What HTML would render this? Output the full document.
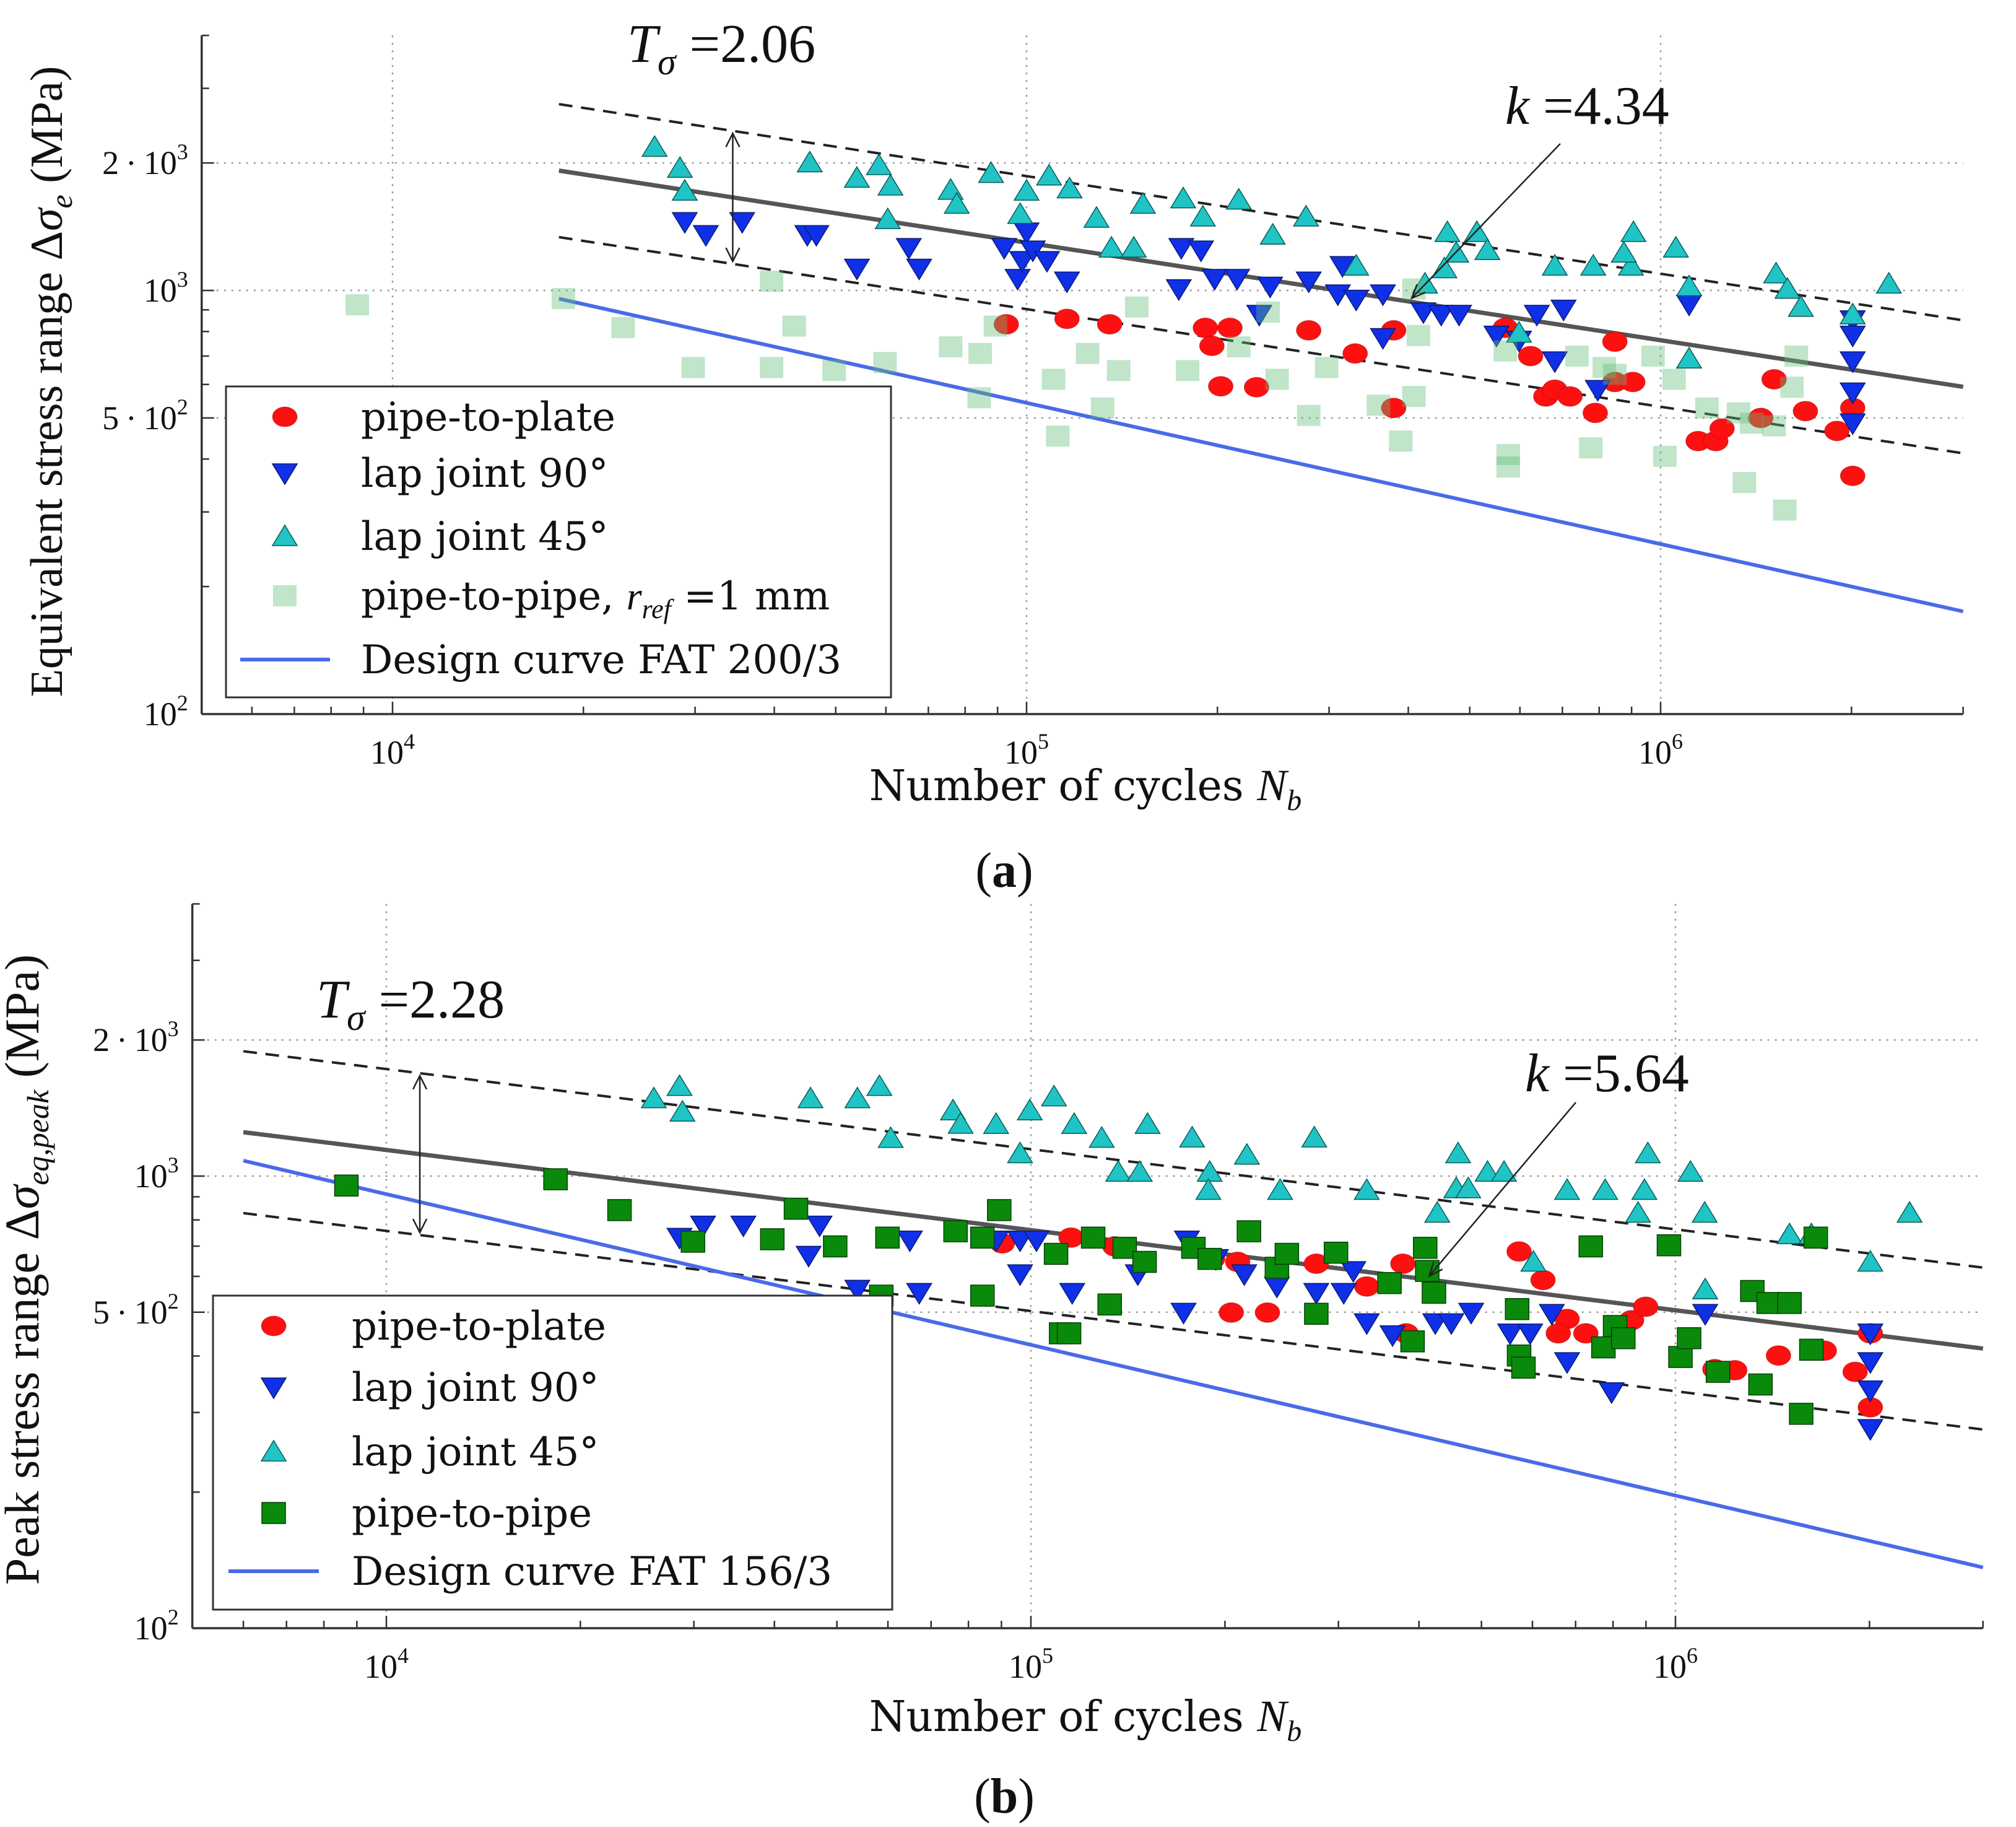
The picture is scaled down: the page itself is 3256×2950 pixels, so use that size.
<!DOCTYPE html>
<html><head><meta charset="utf-8">
<style>
html,body{margin:0;padding:0;background:#fff;}
svg{display:block;}
text{font-family:"DejaVu Serif","Liberation Serif",serif;fill:#111;}
.math{font-family:"Liberation Serif","DejaVu Serif",serif;}
</style></head>
<body>
<svg id="fig" xmlns="http://www.w3.org/2000/svg" width="3256" height="2950" viewBox="0 0 3256 2950">
<g id="pa"></g>
<g id="pb"></g>
</svg>
<script>
// ---------- Panel (a) data ----------
const aPlateN=[92900,115800,135200,191400,209300,196000,202400,230500,278600,329800,379300,379300,569000,623700,659000,681000,719500,788800,847000,847000,904000,1146000,1222000,1250000,1439000,1510000,1692000,1897000,2009000,2009000];
const aPlateS=[832,857,832,816,816,740,594,591,805,710,805,528,816,700,562,583,562,514,757,608,608,441,441,472,500,617,519,466,528,365];
const aLap90N=[28900,31200,35600,45100,46600,54000,65200,67700,92200,100000,96800,98400,102300,107700,115800,173800,175400,188400,198000,214800,242200,232800,278600,315000,309700,331000,364800,364800,422500,450800,481000,551000,598000,638000,703000,681000,796000,1109000,2009000,2009000,2009000,2009000,2009000];
const aLap90S=[1452,1353,1452,1353,1353,1127,1261,1127,1261,1372,1066,1175,1244,1175,1051,1008,1261,1244,1066,1066,1022,877,1051,1143,980,952,980,773,889,877,877,783,762,877,902,681,583,927,851,783,681,575,486];
const aLap45N=[25900,28400,28900,45500,54000,58500,61000,60400,75900,77600,87900,100000,97700,108500,116900,128900,136100,147600,152600,176600,189700,216100,244500,275900,331000,461000,513000,533000,476000,456000,425000,598000,681000,783000,898000,875000,906000,1057000,1109000,1109000,1521000,1585000,1664000,2009000,2291000];
const aLap45S=[2180,1945,1718,2004,1843,1974,1766,1472,1727,1600,1892,1718,1514,1866,1740,1483,1261,1261,1600,1648,1493,1637,1353,1493,1143,1372,1372,1244,1227,1127,1037,794,1143,1143,1143,1227,1372,1261,1022,690,1096,1008,914,877,1037];
const aPipeN=[8800,18600,23100,29800,39600,39600,43000,49700,59800,75900,84500,84200,89300,110300,112000,124800,131800,139700,149200,179500,216100,240400,248400,278600,297300,358900,389100,408300,415000,408300,575000,575000,569000,738000,776000,815000,847000,973000,1016000,1050000,1183000,1327000,1356000,1392000,1510000,1570000,1611000,1637000];
const aPipeS=[925,957,817,658,658,1051,824,647,676,736,710,558,824,617,453,710,528,647,914,647,736,889,617,507,658,536,441,562,783,1008,410,383,720,700,425,658,634,700,406,617,528,514,352,486,479,303,591,700];
const aFit={k:4.34,logC:4.265,band:0.157,nStart:18300};
const aDesign={fat:200,m:3,nStart:18300};
const aLabels={T:"2.06",k:"4.34",fat:"Design curve FAT 200/3"};

// ---------- Panel (b) data ----------
const bPlateN=[90300,115400,135000,191400,209300,277200,204600,232800,331900,377600,382000,572000,623000,679000,658000,726000,855000,899000,1151000,1236000,1445000,1702000,1900000,2006000,2006000];
const bPlateS=[710,731,699,656,646,640,499,499,570,640,449,681,589,483,449,449,480,514,374,372,401,411,369,449,308];
const bLap90N=[28500,31000,35800,47000,45200,64900,53800,67100,88300,96200,102000,96200,115900,146500,172500,174600,193600,214300,240800,277200,305700,316400,331900,364000,424000,449000,482000,554000,595000,643000,679000,796000,1112000,2006000,2006000,2006000,2006000];
const bLap90S=[731,778,778,778,667,721,561,552,721,721,721,607,552,607,499,721,656,607,570,552,552,617,473,445,473,473,499,449,449,496,388,333,496,449,388,336,276];
const bLap45N=[26000,28500,28800,45500,53800,58200,60600,75700,77800,88300,99600,96200,108600,116700,128800,136600,147500,151700,177900,189400,188500,216300,243600,275200,331900,427000,460000,457000,477000,511000,542000,602000,679000,778000,895000,875000,906000,1055000,1110000,1112000,1503000,1625000,2006000,2308000];
const bLap45S=[1485,1581,1387,1485,1485,1581,1213,1396,1304,1303,1396,1122,1499,1303,1214,1021,1021,1303,1216,1021,931,1114,931,1216,931,829,1122,939,939,1021,1021,646,931,931,931,829,1122,1021,829,561,743,743,646,829];
const bPipeN=[8670,18300,23000,29900,39700,43200,49700,59900,76400,84100,58600,84100,89300,109400,124900,139800,150100,132500,111400,114600,178700,189400,217900,240800,249500,277200,297400,360000,409000,412000,422000,391000,568000,572000,581000,739000,977000,773000,806000,830000,1018000,1050000,1164000,1316000,1395000,1503000,1625000,1355000,1567000,1651000];
const bPipeS=[953,984,841,716,725,847,699,731,755,731,544,544,841,673,731,694,646,520,449,449,694,656,755,627,673,496,677,580,694,617,552,431,508,401,377,699,703,418,466,438,398,438,369,557,524,524,413,346,298,731];
const bFit={k:5.64,logC:3.767,band:0.179,nStart:6000};
const bDesign={fat:156,m:3,nStart:6000};
const bLabels={T:"2.28",k:"5.64",fat:"Design curve FAT 156/3"};

const xTickExp=[4,5,6];
const yTickVals=[100,500,1000,2000];
const yTickMant=["","5","","2"];
const yTickExp=["2","2","3","3"];

const NS="http://www.w3.org/2000/svg";
function mk(tag,attrs,parent){const e=document.createElementNS(NS,tag);for(const k in attrs)e.setAttribute(k,attrs[k]);if(parent)parent.appendChild(e);return e;}
const lg=Math.log10;

const COL={plate:"#ff1010",lap90:"#1030e8",lap45:"#20c4c4",pipeA:"#62bf78",pipeB:"#0a8a0a",design:"#4a6ae8"};

function marker(g,type,cx,cy,color,opacity){
  let e;
  if(type==="circle"){e=mk("ellipse",{cx:cx,cy:cy,rx:20,ry:16,fill:color,stroke:"rgba(120,0,0,0.4)","stroke-width":1},g);}
  else if(type==="down"){e=mk("polygon",{points:`${cx-20},${cy-15} ${cx+20},${cy-15} ${cx},${cy+18}`,fill:color,stroke:"#0a1a70","stroke-width":1.5},g);}
  else if(type==="up"){e=mk("polygon",{points:`${cx-20},${cy+15} ${cx+20},${cy+15} ${cx},${cy-18}`,fill:color,stroke:"#0a5a5a","stroke-width":1.5},g);}
  else {e=mk("rect",{x:cx-19,y:cy-17,width:38,height:34,fill:color,stroke:opacity<1?"none":"#064006","stroke-width":1.5,"fill-opacity":opacity},g);}
  return e;
}

function panel(root,P){
  const X=n=>P.x10+(lg(n)-5)*P.dx;
  const Y=s=>P.y1000-(lg(s)-3)*P.dy;
  const xL=X(5000),xR=X(3e6),yT=Y(4000),yB=Y(100);
  const g=root;
  const grid=mk("g",{},g);
  
  
  xTickExp.forEach(e=>{mk("line",{x1:X(10**e),x2:X(10**e),y1:yT,y2:yB,stroke:"#999","stroke-width":2.5,"stroke-dasharray":"3 9"},grid);});
  yTickVals.forEach(v=>{if(v>100)mk("line",{x1:xL,x2:xR,y1:Y(v),y2:Y(v),stroke:"#999","stroke-width":2.5,"stroke-dasharray":"3 9"},grid);});
  const ax=mk("g",{},g);
  
  
  mk("line",{x1:xL,x2:xL,y1:yT,y2:yB,stroke:"#333","stroke-width":3.5},ax);
  mk("line",{x1:xL,x2:xR,y1:yB,y2:yB,stroke:"#333","stroke-width":3.5},ax);
  for(let e=3;e<=6;e++)for(let m=1;m<=9;m++){const n=m*10**e;if(n<5000||n>3e6)continue;const L=m===1?20:12;mk("line",{x1:X(n),x2:X(n),y1:yB,y2:yB-L,stroke:"#333","stroke-width":2.5},ax);}
  for(let e=2;e<=3;e++)for(let m=1;m<=9;m++){const v=m*10**e;if(v>4000)continue;const L=(m===1||v===500||v===2000)?20:12;mk("line",{x1:xL,x2:xL+L,y1:Y(v),y2:Y(v),stroke:"#333","stroke-width":2.5},ax);}
  xTickExp.forEach(e=>{const t=mk("text",{x:X(10**e),y:yB+80,"text-anchor":"middle","font-size":54,class:"math"},ax);t.innerHTML=`10<tspan dy="-24" font-size="36">${e}</tspan>`;});
  yTickVals.forEach((v,i)=>{const t=mk("text",{x:xL-22,y:Y(v)+18,"text-anchor":"end","font-size":54,class:"math"},ax);t.innerHTML=(yTickMant[i]?yTickMant[i]+"\u2009\u00b7\u200910":"10")+`<tspan dy="-24" font-size="36">${yTickExp[i]}</tspan><tspan dy="24"> </tspan>`;});
  const fit=P.fit,sl=-1/fit.k;
  const fl=(off,name,attrs)=>{const n0=fit.nStart,n1=3e6;const s0=10**(fit.logC+sl*lg(n0)+off),s1=10**(fit.logC+sl*lg(n1)+off);const l=mk("line",Object.assign({x1:X(n0),y1:Y(s0),x2:X(n1),y2:Y(s1)},attrs),g);};
  fl(0,'mean-fit-line',{stroke:"#555","stroke-width":7});
  fl(fit.band,'upper-scatter-band',{stroke:"#222","stroke-width":4,"stroke-dasharray":"22 14"});
  fl(-fit.band,'lower-scatter-band',{stroke:"#222","stroke-width":4,"stroke-dasharray":"22 14"});
  const D=P.design;const ds=n=>D.fat*(2e6/n)**(1/D.m);
  const dl=mk("line",{x1:X(D.nStart),y1:Y(ds(D.nStart)),x2:X(3e6),y2:Y(ds(3e6)),stroke:COL.design,"stroke-width":6},g);
  
  
  P.series.forEach(s=>{const sg=mk("g",{},g);
    s.N.forEach((n,i)=>{const m=marker(sg,s.type,X(n),Y(s.S[i]),s.color,s.op);});});
  const nA=P.tArrowN;const up=10**(fit.logC+sl*lg(nA)+fit.band),lo=10**(fit.logC+sl*lg(nA)-fit.band);
  const ag=mk("g",{},g);
  const xa=X(nA),ya=Y(up)+4,yb=Y(lo)-4;
  mk("line",{x1:xa,x2:xa,y1:ya,y2:yb,stroke:"#222","stroke-width":2.5},ag);
  mk("polyline",{points:`${xa-11},${ya+22} ${xa},${ya} ${xa+11},${ya+22}`,fill:"none",stroke:"#222","stroke-width":2.5},ag);
  mk("polyline",{points:`${xa-11},${yb-22} ${xa},${yb} ${xa+11},${yb-22}`,fill:"none",stroke:"#222","stroke-width":2.5},ag);
  const tt=mk("text",{x:P.tPos[0],y:P.tPos[1],"font-size":88,class:"math"},g);
  
  
  tt.innerHTML=`<tspan font-style="italic">T</tspan><tspan dy="20" font-size="60" font-style="italic">σ</tspan><tspan dy="-20"> =${P.labels.T}</tspan>`;
  const kt=mk("text",{x:P.kPos[0],y:P.kPos[1],"font-size":88,class:"math"},g);
  
  
  kt.innerHTML=`<tspan font-style="italic">k</tspan> =${P.labels.k}`;
  const kg=mk("g",{},g);
  const nk=P.kArrowN,sk=10**(fit.logC+sl*lg(nk));const tx=X(nk),ty=Y(sk)-6;const sx=P.kArrowStart[0],sy=P.kArrowStart[1];
  mk("line",{x1:sx,y1:sy,x2:tx,y2:ty,stroke:"#222","stroke-width":2.5},kg);
  const ang=Math.atan2(ty-sy,tx-sx);const h=24;
  mk("polyline",{points:`${tx-h*Math.cos(ang-0.4)},${ty-h*Math.sin(ang-0.4)} ${tx},${ty} ${tx-h*Math.cos(ang+0.4)},${ty-h*Math.sin(ang+0.4)}`,fill:"none",stroke:"#222","stroke-width":2.5},kg);
  const L=P.legend;const lgG=mk("g",{},g);
  mk("rect",{x:L.x,y:L.y,width:L.w,height:L.h,fill:"#fff",stroke:"#333","stroke-width":3},lgG);
  P.series.forEach((s,i)=>{const ey=L.rows[i];const eg=mk("g",{},lgG);
    marker(eg,s.type,L.mx,ey,s.color,s.op);const t=mk("text",{x:L.tx,y:ey+22,"font-size":64},eg);t.innerHTML=s.label;});
  const eg=mk("g",{},lgG);
  const ey=L.rows[4];mk("line",{x1:L.lx0,x2:L.lx1,y1:ey,y2:ey,stroke:COL.design,"stroke-width":6},eg);
  const t=mk("text",{x:L.tx,y:ey+22,"font-size":64},eg);t.textContent=P.labels.fat;
  const xl=mk("text",{x:P.xLabel[0],y:P.xLabel[1],"text-anchor":"middle","font-size":68},g);
  
  xl.innerHTML=`Number of cycles <tspan class="math" font-style="italic" font-family="Liberation Serif" font-size="72">N</tspan><tspan dy="16" font-size="48" font-style="italic" font-family="Liberation Serif">b</tspan>`;
  const yl=mk("text",{x:0,y:0,"text-anchor":"middle","font-size":P.yFont,class:"math",transform:`translate(${P.yLabel[0]},${P.yLabel[1]}) rotate(-90)`},g);
  
  yl.innerHTML=P.yLabelHTML;
  const pl=mk("text",{x:P.pLabel[0],y:P.pLabel[1],"text-anchor":"middle","font-size":80,class:"math"},g);
  
  pl.innerHTML=`(<tspan font-weight="bold">${P.pLetter}</tspan>)`;
}

panel(document.getElementById('pa'),{
  x10:1658,dx:1024,y1000:469,dy:684,fit:aFit,design:aDesign,labels:aLabels,
  series:[
    {name:'pipe-to-plate-series',type:'circle',color:COL.plate,op:1,N:aPlateN,S:aPlateS,label:'pipe-to-plate'},
    {name:'lap-joint-90-series',type:'down',color:COL.lap90,op:1,N:aLap90N,S:aLap90S,label:'lap joint 90°'},
    {name:'lap-joint-45-series',type:'up',color:COL.lap45,op:1,N:aLap45N,S:aLap45S,label:'lap joint 45°'},
    {name:'pipe-to-pipe-series',type:'square',color:COL.pipeA,op:0.4,N:aPipeN,S:aPipeS,label:'pipe-to-pipe, <tspan font-style="italic" font-family="Liberation Serif">r</tspan><tspan dy="14" font-size="44" font-style="italic" font-family="Liberation Serif">ref</tspan><tspan dy="-14"> =1 mm</tspan>'}
  ],
  tArrowN:34400,tPos:[1013,100],kPos:[2431,200],kArrowN:405000,kArrowStart:[2520,232],
  legend:{x:365,y:624,w:1074,h:502,rows:[673,764,866,962,1065],mx:460,lx0:388,lx1:533,tx:583},
  xLabel:[1753,1292],yLabel:[100,616],yFont:74,pLetter:'a',pLabel:[1622,1432],
  yLabelHTML:'Equivalent stress range Δ<tspan font-style="italic">σ</tspan><tspan dy="16" font-size="50" font-style="italic">e</tspan><tspan dy="-16">  (MPa)</tspan>'
});
panel(document.getElementById('pb'),{
  x10:1665,dx:1041,y1000:1899,dy:730,fit:bFit,design:bDesign,labels:bLabels,
  series:[
    {name:'pipe-to-plate-series',type:'circle',color:COL.plate,op:1,N:bPlateN,S:bPlateS,label:'pipe-to-plate'},
    {name:'lap-joint-90-series',type:'down',color:COL.lap90,op:1,N:bLap90N,S:bLap90S,label:'lap joint 90°'},
    {name:'lap-joint-45-series',type:'up',color:COL.lap45,op:1,N:bLap45N,S:bLap45S,label:'lap joint 45°'},
    {name:'pipe-to-pipe-series',type:'square',color:COL.pipeB,op:1,N:bPipeN,S:bPipeS,label:'pipe-to-pipe'}
  ],
  tArrowN:11270,tPos:[511,1643],kPos:[2463,1762],kArrowN:415000,kArrowStart:[2545,1780],
  legend:{x:344,y:2092,w:1097,h:507,rows:[2141,2240,2344,2443,2537],mx:442,lx0:369,lx1:515,tx:568},
  xLabel:[1753,2795],yLabel:[62,2050],yFont:78,pLetter:'b',pLabel:[1622,2927],
  yLabelHTML:'Peak stress range Δ<tspan font-style="italic">σ</tspan><tspan dy="16" font-size="50" font-style="italic">eq,peak</tspan><tspan dy="-16">  (MPa)</tspan>'
});
</script>
</body></html>
